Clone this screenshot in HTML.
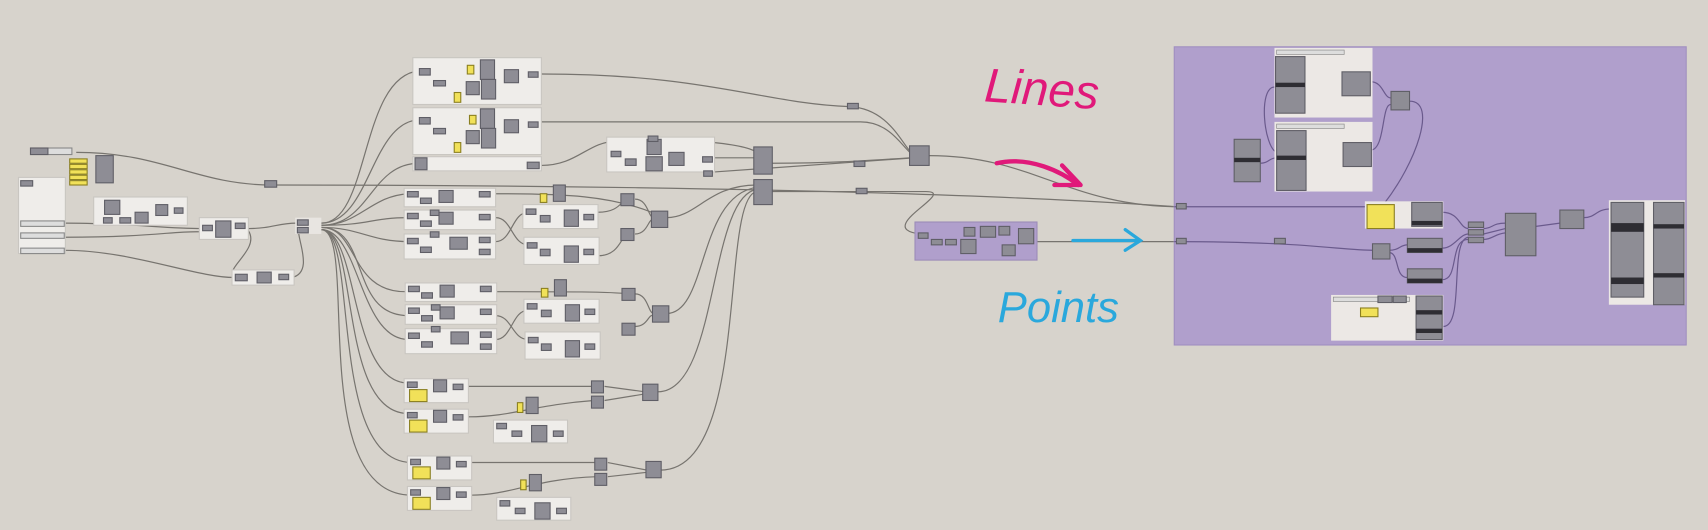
<!DOCTYPE html>
<html><head><style>
html,body{margin:0;padding:0;background:#d7d3cc;}
svg{display:block}
</style></head><body>
<svg width="1708" height="530" viewBox="0 0 1568 487" preserveAspectRatio="none" xmlns="http://www.w3.org/2000/svg">
<defs>
<style>
.g{fill:#efedea;stroke:#c9c6c1;stroke-width:1}
.n{fill:#8e8d95;stroke:#5f5e66;stroke-width:1}
.y{fill:#f1e159;stroke:#8a7f20;stroke-width:1}
.w{fill:none;stroke:#77746f;stroke-width:1.1}
.wp{fill:none;stroke:#6a5a8c;stroke-width:1.1}
.d{fill:#2e2d33}
</style>
</defs>
<rect width="1568" height="487" fill="#d7d3cc"/>

<g class="w">
<path d="M70,140 C150,140 180,170 250,170 S800,170 1080,190"/>
<path d="M60,205 C120,205 150,210 185,210"/>
<path d="M60,218 C140,218 160,212 185,213"/>
<path d="M60,230 C120,230 180,255 215,255"/>
<path d="M228,210 C250,210 255,205 272,205"/>
<path d="M228,212 C240,230 200,250 218,255"/>
<path d="M268,255 C290,250 270,215 275,210"/>
<path d="M295,205 C340,205 330,70 385,65"/>
<path d="M295,205 C340,205 340,112 385,110"/>
<path d="M295,207 C340,207 340,150 385,150"/>
<path d="M295,207 C330,207 340,180 375,178"/>
<path d="M295,207 C340,207 340,200 375,200"/>
<path d="M295,209 C330,209 340,222 375,222"/>
<path d="M295,209 C330,209 320,270 375,268"/>
<path d="M295,209 C340,209 320,290 375,290"/>
<path d="M295,211 C330,211 330,312 375,312"/>
<path d="M295,211 C330,211 320,352 375,352"/>
<path d="M295,211 C330,211 310,380 375,380"/>
<path d="M295,211 C330,211 300,425 378,425"/>
<path d="M295,211 C330,211 280,455 378,455"/>
<path d="M497,68 C650,68 700,95 780,98 C820,100 830,140 840,142"/>
<path d="M497,112 C650,112 700,112 790,112 C820,112 830,140 840,143"/>
<path d="M497,152 C530,152 540,130 565,130"/>
<path d="M650,145 C680,145 685,145 695,145"/>
<path d="M580,128 C620,128 680,130 695,140"/>
<path d="M656,158 L840,145"/>
<path d="M455,178 C520,178 560,180 598,195"/>
<path d="M455,200 C470,200 470,225 485,225"/>
<path d="M455,222 C470,222 470,195 485,195"/>
<path d="M549,195 C570,195 570,183 577,183"/>
<path d="M549,235 C570,235 570,215 577,215"/>
<path d="M583,183 C595,183 595,200 600,200"/>
<path d="M583,215 C595,215 595,200 600,202"/>
<path d="M612,200 C640,200 650,170 695,170"/>
<path d="M455,268 C520,268 560,268 577,270"/>
<path d="M455,290 C470,290 470,312 485,312"/>
<path d="M455,312 C470,312 470,285 485,285"/>
<path d="M583,270 C595,270 595,288 600,288"/>
<path d="M583,300 C595,300 595,288 600,290"/>
<path d="M612,288 C650,288 640,180 695,172"/>
<path d="M430,355 C500,355 520,355 545,355"/>
<path d="M430,383 C470,383 490,372 545,368"/>
<path d="M555,355 L592,360"/>
<path d="M555,368 L592,362"/>
<path d="M604,360 C660,360 650,180 695,174"/>
<path d="M432,425 C500,425 520,425 548,425"/>
<path d="M432,455 C470,455 490,440 548,438"/>
<path d="M558,425 L594,432"/>
<path d="M558,438 L594,434"/>
<path d="M606,432 C690,432 660,180 695,176"/>
<path d="M709,150 C760,150 790,148 835,145"/>
<path d="M709,176 C760,176 790,176 850,176 C880,176 800,210 845,215"/>
<path d="M853,143 C950,143 980,190 1085,190"/>
<path d="M952,222 L1085,222"/>
</g>

<rect x="28" y="136" width="38" height="6" fill="#ddd" stroke="#888"/>
<rect x="28" y="136" width="16" height="6" class="n"/>
<g class="y"><rect x="64" y="146" width="16" height="4"/><rect x="64" y="151" width="16" height="4"/><rect x="64" y="156" width="16" height="4"/><rect x="64" y="161" width="16" height="4"/><rect x="64" y="166" width="16" height="4"/></g>
<rect x="88" y="143" width="16" height="25" class="n"/>
<rect x="17" y="163" width="43" height="70" class="g"/>
<g class="n"><rect x="19" y="166" width="11" height="5"/></g>
<g fill="#ddd" stroke="#888"><rect x="19" y="203" width="40" height="5"/><rect x="19" y="214" width="40" height="5"/><rect x="19" y="228" width="40" height="5"/></g>
<rect x="86" y="181" width="86" height="26" class="g"/>
<g class="n"><rect x="96" y="184" width="14" height="13"/><rect x="95" y="200" width="8" height="5"/><rect x="110" y="200" width="10" height="5"/><rect x="124" y="195" width="12" height="10"/><rect x="143" y="188" width="11" height="10"/><rect x="160" y="191" width="8" height="5"/></g>
<rect x="183" y="200" width="45" height="20" class="g"/>
<g class="n"><rect x="186" y="207" width="9" height="5"/><rect x="198" y="203" width="14" height="15"/><rect x="216" y="205" width="9" height="5"/></g>
<rect x="243" y="166" width="11" height="6" class="n"/>
<rect x="213" y="248" width="57" height="14" class="g"/>
<g class="n"><rect x="216" y="252" width="11" height="6"/><rect x="236" y="250" width="13" height="10"/><rect x="256" y="252" width="9" height="5"/></g>
<rect x="271" y="200" width="24" height="15" fill="#e8e5e1"/>
<g class="n"><rect x="273" y="202" width="10" height="5"/><rect x="273" y="209" width="10" height="5"/></g>

<g>
<rect x="379" y="53" width="118" height="43" class="g"/>
<g class="n"><rect x="385" y="63" width="10" height="6"/><rect x="398" y="74" width="11" height="5"/><rect x="441" y="55" width="13" height="18"/><rect x="463" y="64" width="13" height="12"/><rect x="485" y="66" width="9" height="5"/><rect x="428" y="75" width="12" height="12"/><rect x="442" y="73" width="13" height="18"/></g>
<rect x="429" y="60" width="6" height="8" class="y"/><rect x="417" y="85" width="6" height="9" class="y"/>
<rect x="379" y="99" width="118" height="43" class="g"/>
<g class="n"><rect x="385" y="108" width="10" height="6"/><rect x="398" y="118" width="11" height="5"/><rect x="441" y="100" width="13" height="18"/><rect x="463" y="110" width="13" height="12"/><rect x="485" y="112" width="9" height="5"/><rect x="428" y="120" width="12" height="12"/><rect x="442" y="118" width="13" height="18"/></g>
<rect x="431" y="106" width="6" height="8" class="y"/><rect x="417" y="131" width="6" height="9" class="y"/>
<rect x="379" y="144" width="118" height="13" class="g"/>
<g class="n"><rect x="381" y="145" width="11" height="11"/><rect x="484" y="149" width="11" height="6"/></g>
<rect x="557" y="126" width="99" height="32" class="g"/>
<g class="n"><rect x="561" y="139" width="9" height="5"/><rect x="574" y="146" width="10" height="6"/><rect x="594" y="128" width="13" height="14"/><rect x="593" y="144" width="15" height="13"/><rect x="614" y="140" width="14" height="12"/><rect x="645" y="144" width="9" height="5"/><rect x="595" y="125" width="9" height="5"/><rect x="646" y="157" width="8" height="5"/></g>
<g class="n"><rect x="692" y="135" width="17" height="25"/><rect x="692" y="165" width="17" height="23"/><rect x="778" y="95" width="10" height="5"/><rect x="784" y="148" width="10" height="5"/><rect x="786" y="173" width="10" height="5"/><rect x="835" y="134" width="18" height="18"/></g>
</g>

<g id="blkA">
<rect x="371" y="173" width="84" height="17" class="g"/>
<rect x="371" y="193" width="84" height="18" class="g"/>
<rect x="371" y="215" width="84" height="23" class="g"/>
<g class="n"><rect x="374" y="176" width="10" height="5"/><rect x="386" y="182" width="10" height="5"/><rect x="403" y="175" width="13" height="11"/><rect x="440" y="176" width="10" height="5"/>
<rect x="374" y="196" width="10" height="5"/><rect x="386" y="203" width="10" height="5"/><rect x="403" y="195" width="13" height="11"/><rect x="440" y="197" width="10" height="5"/>
<rect x="374" y="219" width="10" height="5"/><rect x="386" y="227" width="10" height="5"/><rect x="413" y="218" width="16" height="11"/><rect x="440" y="218" width="10" height="5"/><rect x="440" y="229" width="10" height="5"/>
<rect x="395" y="193" width="8" height="5"/><rect x="395" y="213" width="8" height="5"/></g>
<rect x="480" y="188" width="69" height="22" class="g"/>
<rect x="481" y="218" width="69" height="25" class="g"/>
<g class="n"><rect x="483" y="192" width="9" height="5"/><rect x="496" y="198" width="9" height="6"/><rect x="518" y="193" width="13" height="15"/><rect x="536" y="197" width="9" height="5"/>
<rect x="484" y="223" width="9" height="5"/><rect x="496" y="229" width="9" height="6"/><rect x="518" y="226" width="13" height="15"/><rect x="536" y="229" width="9" height="5"/>
<rect x="508" y="170" width="11" height="15"/><rect x="570" y="178" width="12" height="11"/><rect x="570" y="210" width="12" height="11"/><rect x="598" y="194" width="15" height="15"/></g>
<rect x="496" y="178" width="6" height="8" class="y"/>
</g>
<use href="#blkA" transform="translate(1,87)"/>

<g id="blkB">
<rect x="371" y="348" width="59" height="22" class="g"/>
<rect x="371" y="376" width="59" height="22" class="g"/>
<rect x="376" y="358" width="16" height="11" class="y"/>
<rect x="376" y="386" width="16" height="11" class="y"/>
<g class="n"><rect x="374" y="351" width="9" height="5"/><rect x="398" y="349" width="12" height="11"/><rect x="416" y="353" width="9" height="5"/>
<rect x="374" y="379" width="9" height="5"/><rect x="398" y="377" width="12" height="11"/><rect x="416" y="381" width="9" height="5"/></g>
<rect x="453" y="386" width="68" height="21" class="g"/>
<g class="n"><rect x="456" y="389" width="9" height="5"/><rect x="470" y="396" width="9" height="5"/><rect x="488" y="391" width="14" height="15"/><rect x="508" y="396" width="9" height="5"/>
<rect x="483" y="365" width="11" height="15"/><rect x="543" y="350" width="11" height="11"/><rect x="543" y="364" width="11" height="11"/><rect x="590" y="353" width="14" height="15"/></g>
<rect x="475" y="370" width="5" height="9" class="y"/>
</g>
<use href="#blkB" transform="translate(3,71)"/>

<rect x="840" y="204" width="112" height="35" fill="#b09fcc" stroke="#9c8cb8"/>
<g class="n"><rect x="843" y="214" width="9" height="5"/><rect x="855" y="220" width="10" height="5"/><rect x="868" y="220" width="10" height="5"/><rect x="882" y="220" width="14" height="13"/><rect x="885" y="209" width="10" height="8"/><rect x="900" y="208" width="14" height="10"/><rect x="917" y="208" width="10" height="8"/><rect x="935" y="210" width="14" height="14"/><rect x="920" y="225" width="12" height="10"/></g>

<rect x="1078" y="43" width="470" height="274" fill="#b09fcc" stroke="#a08fc0"/>
<g class="wp">
<path d="M1078,190 L1255,190"/>
<path d="M1078,222 C1200,222 1230,230 1262,230"/>
<path d="M1258,75 C1270,75 1270,90 1277,90"/>
<path d="M1258,138 C1272,138 1268,95 1277,96"/>
<path d="M1294,93 C1320,93 1300,150 1270,188"/>
<path d="M1170,80 C1155,80 1160,135 1172,140"/>
<path d="M1157,150 C1165,150 1165,145 1172,145"/>
<path d="M1324,195 C1340,195 1340,210 1348,210"/>
<path d="M1275,230 C1285,230 1285,225 1292,225"/>
<path d="M1275,232 C1285,232 1280,255 1292,255"/>
<path d="M1324,228 C1335,228 1340,215 1348,215"/>
<path d="M1324,257 C1340,257 1330,220 1348,220"/>
<path d="M1325,300 C1345,300 1330,220 1348,218"/>
<path d="M1362,210 C1370,210 1370,205 1382,205"/>
<path d="M1362,215 L1382,210"/>
<path d="M1362,220 C1370,220 1372,215 1382,214"/>
<path d="M1410,208 L1432,205"/>
<path d="M1454,200 C1465,200 1465,192 1479,192"/>
</g>
<rect x="1170" y="44" width="90" height="64" fill="#ece8e5"/>
<rect x="1170" y="112" width="90" height="64" fill="#ece8e5"/>
<rect x="1172" y="46" width="62" height="4" fill="#ddd" stroke="#888" stroke-width=".6"/>
<rect x="1172" y="114" width="62" height="4" fill="#ddd" stroke="#888" stroke-width=".6"/>
<g class="n"><rect x="1171" y="52" width="27" height="52"/><rect x="1172" y="120" width="27" height="55"/><rect x="1133" y="128" width="24" height="39"/><rect x="1232" y="66" width="26" height="22"/><rect x="1233" y="131" width="26" height="22"/><rect x="1277" y="84" width="17" height="17"/></g>
<g class="d"><rect x="1171" y="76" width="27" height="4"/><rect x="1172" y="143" width="27" height="4"/><rect x="1133" y="145" width="24" height="4"/></g>
<rect x="1253" y="185" width="72" height="25" fill="#ece8e5"/>
<rect x="1255" y="188" width="25" height="22" class="y"/>
<g class="n"><rect x="1296" y="186" width="28" height="22"/><rect x="1292" y="219" width="32" height="13"/><rect x="1292" y="247" width="32" height="13"/><rect x="1260" y="224" width="16" height="14"/><rect x="1348" y="204" width="14" height="5"/><rect x="1348" y="211" width="14" height="5"/><rect x="1348" y="218" width="14" height="5"/><rect x="1382" y="196" width="28" height="39"/><rect x="1432" y="193" width="22" height="17"/><rect x="1080" y="187" width="9" height="5"/><rect x="1080" y="219" width="9" height="5"/><rect x="1170" y="219" width="10" height="5"/></g>
<g class="d"><rect x="1296" y="203" width="28" height="4"/><rect x="1292" y="228" width="32" height="4"/><rect x="1292" y="256" width="32" height="4"/></g>
<rect x="1222" y="271" width="103" height="42" fill="#ece8e5"/>
<rect x="1224" y="273" width="70" height="4" fill="#ddd" stroke="#888" stroke-width=".6"/>
<g class="n"><rect x="1265" y="272" width="13" height="6"/><rect x="1279" y="272" width="12" height="6"/><rect x="1300" y="272" width="24" height="40"/></g>
<g class="d"><rect x="1300" y="285" width="24" height="4"/><rect x="1300" y="302" width="24" height="4"/></g>
<rect x="1249" y="283" width="16" height="8" class="y"/>
<rect x="1477" y="184" width="70" height="96" fill="#ece8e5"/>
<g class="n"><rect x="1479" y="186" width="30" height="87"/><rect x="1518" y="186" width="28" height="94"/></g>
<g class="d"><rect x="1479" y="205" width="30" height="8"/><rect x="1479" y="255" width="30" height="6"/><rect x="1518" y="206" width="28" height="4"/><rect x="1518" y="251" width="28" height="4"/></g>

<text x="903" y="93" font-family="Liberation Sans, sans-serif" font-style="italic" font-size="44" fill="#e0197a" transform="rotate(4 903 93)">Lines</text>
<path d="M915,150 C945,143 975,158 990,170" fill="none" stroke="#e0197a" stroke-width="4" stroke-linecap="round"/>
<path d="M975,152 L992,170 L968,170" fill="none" stroke="#e0197a" stroke-width="4" stroke-linecap="round" stroke-linejoin="round"/>
<path d="M985,221 L1045,221" fill="none" stroke="#2aa8dc" stroke-width="3" stroke-linecap="round"/>
<path d="M1033,211 L1047,221 L1033,230" fill="none" stroke="#2aa8dc" stroke-width="3" stroke-linecap="round"/>
<text x="916" y="296" font-family="Liberation Sans, sans-serif" font-style="italic" font-size="40" fill="#2aa8dc">Points</text>
</svg>
</body></html>
